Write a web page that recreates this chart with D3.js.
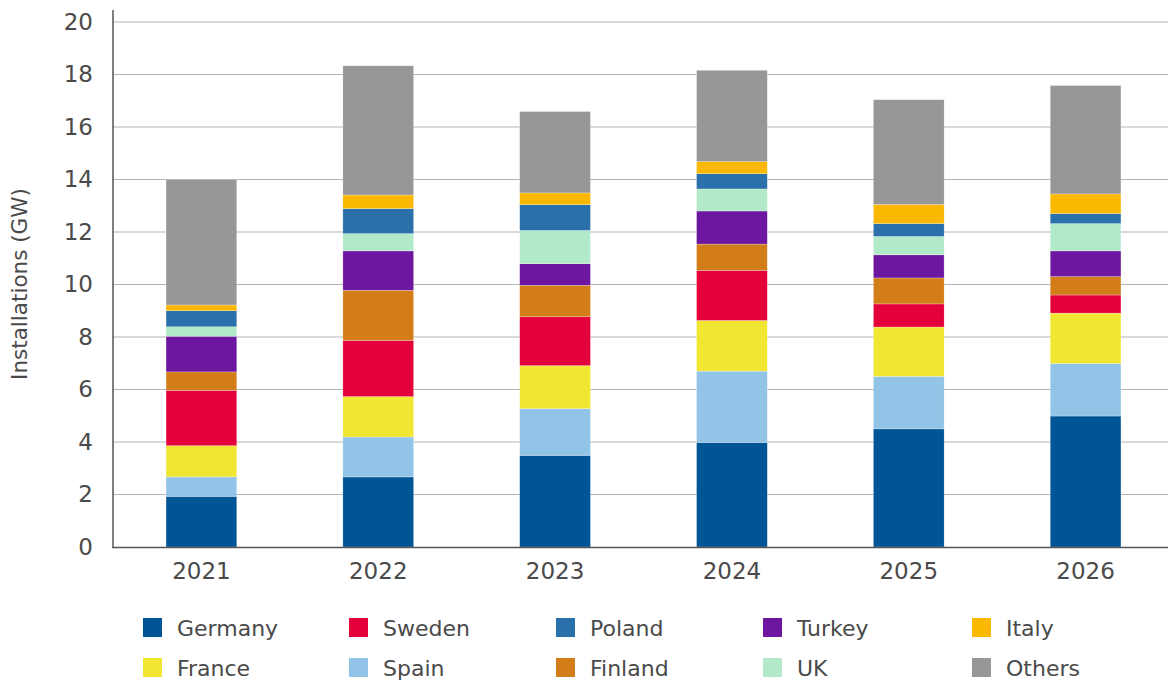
<!DOCTYPE html>
<html><head><meta charset="utf-8">
<script src="https://cdn.jsdelivr.net/npm/d3@7"></script>
<style>body{margin:0;background:#fff;} svg{display:block;font-family:"DejaVu Sans", sans-serif;}</style>
</head><body>
<svg id="chart" width="1168" height="680"></svg>
<script>
const years = ["2021","2022","2023","2024","2025","2026"];
const seriesNames = ["Germany","Spain","France","Sweden","Finland","Turkey","UK","Poland","Italy","Others"];
const Germany = [1.93, 2.67, 3.49, 3.98, 4.50, 4.99];
const Spain   = [0.74, 1.52, 1.78, 2.72, 2.00, 2.00];
const France  = [1.19, 1.54, 1.64, 1.93, 1.88, 1.92];
const Sweden  = [2.11, 2.14, 1.86, 1.91, 0.88, 0.69];
const Finland = [0.70, 1.91, 1.20, 1.00, 0.99, 0.70];
const Turkey  = [1.36, 1.50, 0.82, 1.26, 0.88, 0.98];
const UK      = [0.36, 0.66, 1.27, 0.84, 0.70, 1.04];
const Poland  = [0.61, 0.95, 0.98, 0.58, 0.49, 0.38];
const Italy   = [0.22, 0.52, 0.45, 0.46, 0.73, 0.75];
const Others  = [4.78, 4.92, 3.10, 3.48, 3.99, 4.13];
const colors = {Germany:"#005596",Spain:"#91c4e6",France:"#f1e631",Sweden:"#e4003a",Finland:"#d27d18",
  Turkey:"#6d17a0",UK:"#b2eac9",Poland:"#2a70aa",Italy:"#fbb800",Others:"#979797"};
const yTicks = [0,2,4,6,8,10,12,14,16,18,20];
const legendRows = [["Germany","Sweden","Poland","Turkey","Italy"],["France","Spain","Finland","UK","Others"]];

const valuesBySeries = {Germany,Spain,France,Sweden,Finland,Turkey,UK,Poland,Italy,Others};
const table = years.map((y,i)=>{const o={year:y}; seriesNames.forEach(s=>o[s]=valuesBySeries[s][i]); return o;});

const svg = d3.select("#chart");
const x = d3.scaleBand().domain(years).range([113,1174]).paddingInner(0.6).paddingOuter(0.3);
const y = d3.scaleLinear().domain([0,20]).range([547,22]);

// gridlines
svg.append("g").selectAll("line").data(yTicks.filter(d=>d>0)).join("line")
  .attr("x1",113).attr("x2",1168).attr("y1",d=>y(d)).attr("y2",d=>y(d))
  .attr("stroke","#b4b4b4").attr("stroke-width",1.2);

const stack = d3.stack().keys(seriesNames)(table);
svg.append("g").selectAll("g").data(stack).join("g")
  .attr("fill",d=>colors[d.key])
  .selectAll("rect").data(d=>d).join("rect")
  .attr("x",d=>x(d.data.year)).attr("width",x.bandwidth())
  .attr("y",d=>y(d[1])).attr("height",d=>y(d[0])-y(d[1]))
  .attr("stroke","rgba(255,255,255,0.5)").attr("stroke-width",0.5);

// axes lines
svg.append("line").attr("x1",113).attr("x2",113).attr("y1",10).attr("y2",547.5).attr("stroke","#555").attr("stroke-width",1.5);
svg.append("line").attr("x1",112).attr("x2",1168).attr("y1",547.5).attr("y2",547.5).attr("stroke","#555").attr("stroke-width",1.5);

// y tick labels
const yAxis = d3.axisLeft(y).tickValues(yTicks).tickSize(0).tickPadding(20);
const gy = svg.append("g").attr("transform","translate(113,0)").call(yAxis);
gy.select(".domain").remove();
gy.selectAll("text").attr("font-size",23).attr("fill","#4a4a4a").attr("font-family","DejaVu Sans, sans-serif");

// x tick labels
const xAxis = d3.axisBottom(x).tickSize(0).tickPadding(16);
const gx = svg.append("g").attr("transform","translate(0,547)").call(xAxis);
gx.select(".domain").remove();
gx.selectAll("text").attr("font-size",23).attr("fill","#4a4a4a").attr("font-family","DejaVu Sans, sans-serif");

// y label
svg.append("text").attr("transform","translate(27,284) rotate(-90)").attr("text-anchor","middle")
  .attr("font-size",21.5).attr("fill","#4a4a4a").text("Installations (GW)");

// legend
const colX = [143,349,556,763,972];
const rowY = [628,668];
legendRows.forEach((row,ri)=>row.forEach((name,ci)=>{
  const g = svg.append("g").attr("transform",`translate(${colX[ci]},${rowY[ri]})`);
  g.append("rect").attr("x",0).attr("y",-10).attr("width",19).attr("height",19).attr("fill",colors[name]);
  g.append("text").attr("x",34).attr("y",0).attr("dy","0.36em").attr("font-size",22).attr("fill","#4a4a4a").text(name);
}));
</script>
</body></html>
